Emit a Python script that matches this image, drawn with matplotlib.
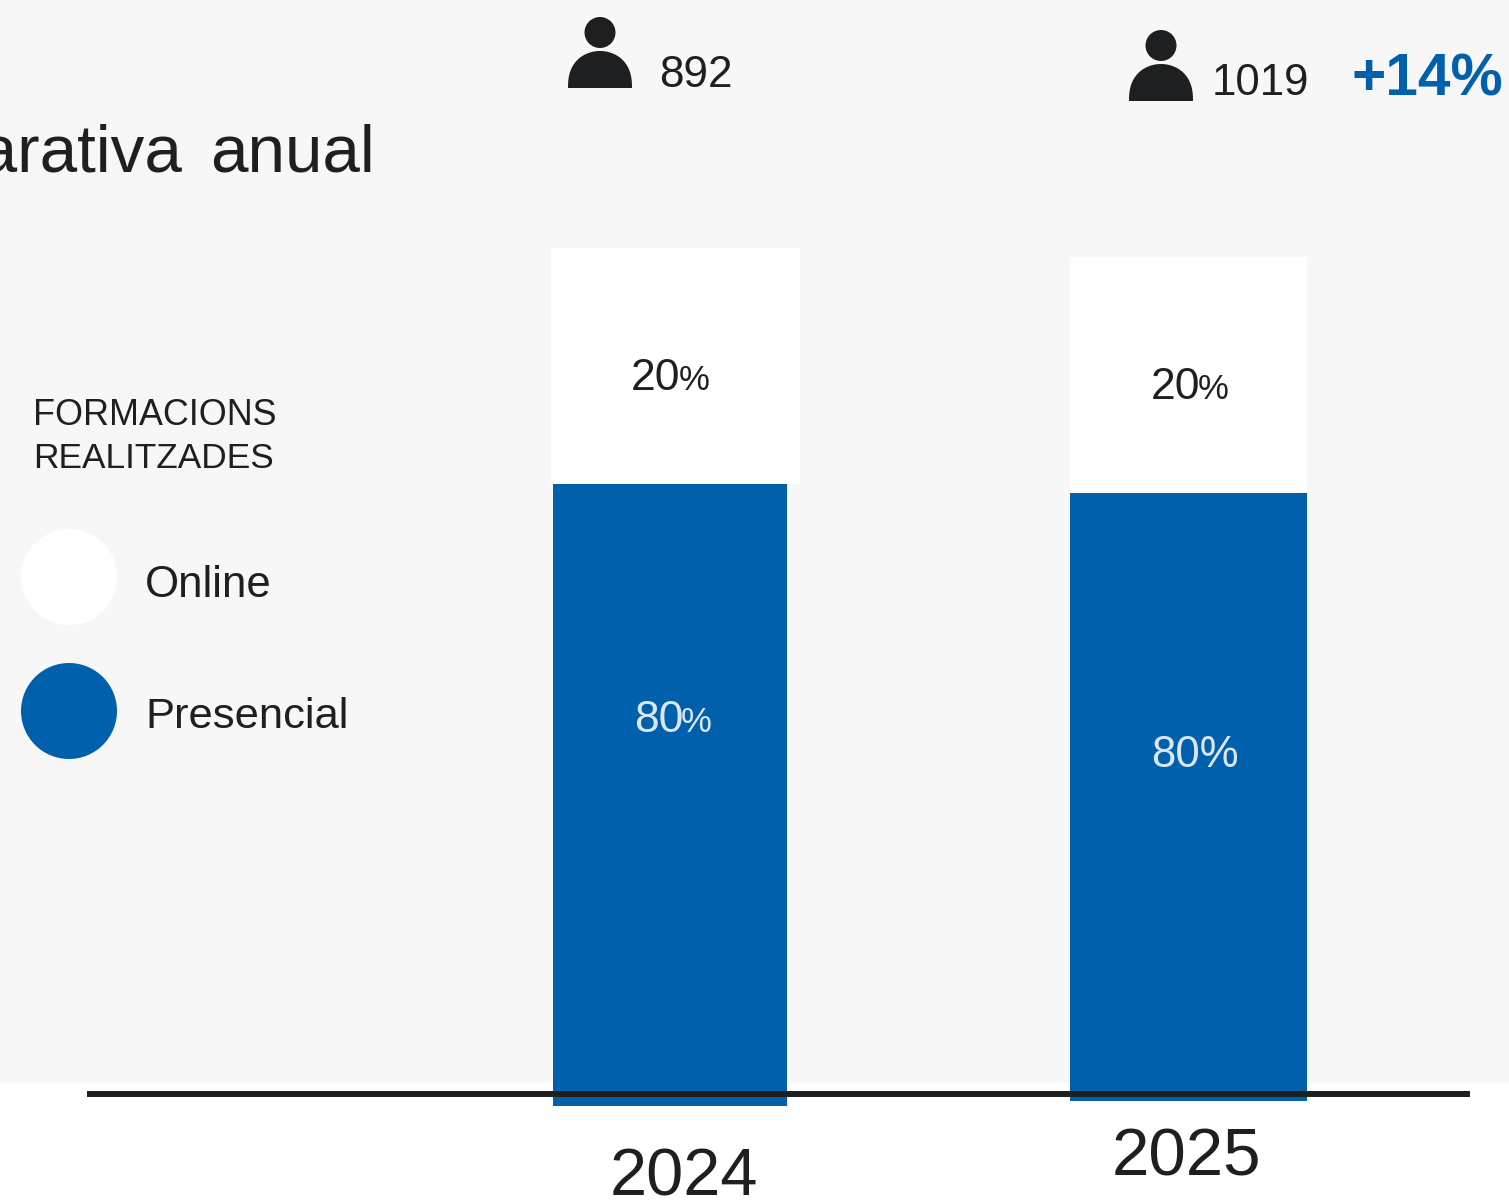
import matplotlib
matplotlib.use("Agg")
import matplotlib.pyplot as plt
from matplotlib.patches import Circle, Polygon, Rectangle
import numpy as np

plt.rcParams['font.family'] = ['Liberation Sans', 'DejaVu Sans']

# data
years = ['2024', '2025']
people = ['892', '1019']
growth = '+14%'
online_pct = [20, 20]
presencial_pct = [80, 80]
# bar heights as they were drawn in the picture
online_h = [236, 236]
presencial_h = [622, 608]

BLUE = '#0060AC'
DARK = '#1E1F21'
BG = '#F7F7F7'
LIGHT = '#DCE7F3'

fig = plt.figure(figsize=(15.09, 12.03), dpi=100, facecolor='white')
ax = fig.add_axes([0, 0, 1, 1])
ax.set_xlim(0, 1509)
ax.set_ylim(1203, 0)
ax.axis('off')

ax.add_patch(Rectangle((0, 0), 1509, 1083, color=BG, lw=0, zorder=0))

# bars
tops = [248, 257]
ax.bar([551, 1070], online_h, width=[249, 237], bottom=tops, align='edge', color='white', lw=0, zorder=1)
ax.bar([553, 1070], presencial_h, width=[234, 237], bottom=[484, 493], align='edge', color=BLUE, lw=0, zorder=2)
ax.plot([87, 1470], [1094, 1094], color=DARK, lw=4.3, solid_capstyle='butt', zorder=3)


def person(cx, cy):
    ax.add_patch(Circle((cx, cy + 0.5), 15.5, color=DARK, lw=0))
    t = np.linspace(0, np.pi, 60)
    # dome is a bit fuller than an ellipse
    dome = np.column_stack([cx + 32 * np.cos(t), cy + 56 - 37 * np.sin(t) ** 0.8])
    ax.add_patch(Polygon(dome, closed=True, color=DARK, lw=0))


person(600, 32)
person(1161, 45)
ax.text(659, 87, people[0], fontsize=31.7, color=DARK, va='baseline')
ax.text(1212, 95, people[1], fontsize=31.5, color=DARK, va='baseline')
ax.text(1352, 95, growth, fontsize=42.2, color=BLUE, va='baseline', fontweight='bold')

ax.text(183, 172, 'Comparativa', fontsize=48.5, color=DARK, ha='right', va='baseline')
ax.text(375, 172, 'anual', fontsize=48.5, color=DARK, ha='right', va='baseline')

# legend
ax.text(33, 425, 'FORMACIONS', fontsize=25.8, color=DARK, va='baseline')
ax.text(33, 468, 'REALITZADES', fontsize=25.4, color=DARK, va='baseline')
ax.add_patch(Circle((69, 577), 48, color='white', lw=0))
ax.add_patch(Circle((69, 711), 48, color=BLUE, lw=0))
ax.text(145, 597, 'Online', fontsize=31.5, color=DARK, va='baseline')
ax.text(145, 728, 'Presencial', fontsize=31.3, color=DARK, va='baseline')

# percent labels
ax.text(631, 390, str(online_pct[0]), fontsize=32, color=DARK, va='baseline')
ax.text(679, 390, '%', fontsize=25, color=DARK, va='baseline')
ax.text(1151, 399, str(online_pct[1]), fontsize=32, color=DARK, va='baseline')
ax.text(1198, 399, '%', fontsize=25, color=DARK, va='baseline')
ax.text(634, 732, str(presencial_pct[0]), fontsize=32, color=LIGHT, va='baseline', zorder=4)
ax.text(681, 732, '%', fontsize=25, color=LIGHT, va='baseline', zorder=4)
ax.text(1151, 767, f'{presencial_pct[1]}%', fontsize=31.5, color=LIGHT, va='baseline', zorder=4)

# years
ax.text(610, 1196, years[0], fontsize=48, color=DARK, va='baseline')
ax.text(1112, 1176, years[1], fontsize=48.4, color=DARK, va='baseline')

fig.savefig('out.png', dpi=100, facecolor='white')
